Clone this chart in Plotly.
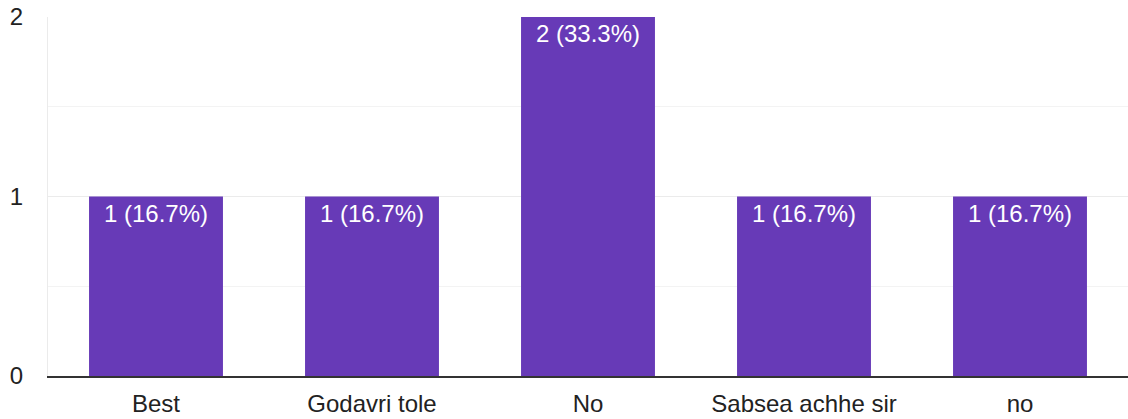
import plotly.graph_objects as go

categories = ["Best", "Godavri tole", "No", "Sabsea achhe sir", "no"]
counts = [1, 1, 2, 1, 1]
percent = [16.7, 16.7, 33.3, 16.7, 16.7]
labels = [f"{c} ({p}%)" for c, p in zip(counts, percent)]

FONT = "Arial, Liberation Sans, sans-serif"

fig = go.Figure(go.Bar(
    x=categories, y=counts, text=labels,
    textposition="inside", insidetextanchor="end",
    textfont=dict(color="white", size=24, family=FONT),
    marker=dict(color="#673AB7", line=dict(width=0)),
    width=0.62, cliponaxis=False,
))
fig.update_layout(
    width=1128, height=419,
    margin=dict(l=48, r=0, t=17, b=43),
    paper_bgcolor="white", plot_bgcolor="white",
    font=dict(family=FONT, size=24, color="#222222"),
    showlegend=False, uniformtext=dict(mode=False),
)
fig.update_xaxes(showgrid=False, showline=True, linecolor="#333333", linewidth=2,
                 ticks="", ticklabelstandoff=5, tickfont=dict(size=24, color="#222222"))
fig.update_yaxes(range=[0, 2], tickvals=[0, 1, 2], showgrid=True, gridcolor="#ebebeb",
                 gridwidth=1, minor=dict(tickvals=[0.5, 1.5], showgrid=True, gridcolor="#f3f3f3"),
                 showline=True, linecolor="#ebebeb", linewidth=1, zeroline=False,
                 ticks="", ticklabelstandoff=19, ticklabeloverflow="allow",
                 tickfont=dict(size=24, color="#222222"))
fig.write_html("out.html", config={"displayModeBar": False},
               post_script="document.body.style.margin='0';")
